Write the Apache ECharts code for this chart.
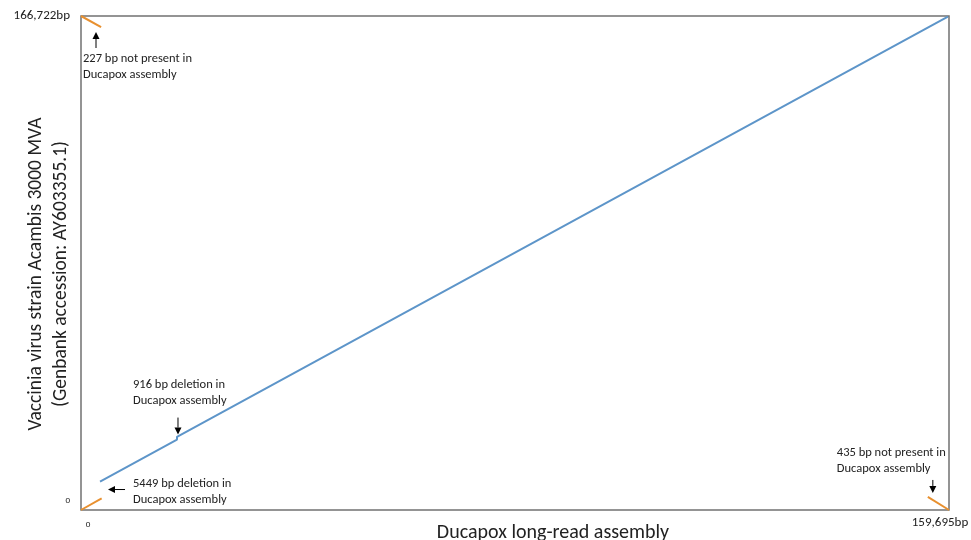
<!DOCTYPE html>
<html>
<head>
<meta charset="utf-8">
<script src="https://cdn.jsdelivr.net/npm/echarts@6/dist/echarts.min.js"></script>
<style>
  html, body { margin: 0; padding: 0; background: #ffffff; }
  #chart { width: 971px; height: 540px; }
</style>
</head>
<body>
<div id="chart"></div>
<script>
// Genome lengths (bp)
const queryLength = 159695;      // Ducapox long-read assembly
const referenceLength = 166722;  // Vaccinia virus strain Acambis 3000 MVA

// Forward alignment (query bp, reference bp), with the 916 bp step
const forwardMatch = [[3500, 9611], [17660, 23771], [17660, 24687], [159500, 166527]];

// Inverted terminal repeat matches
const repeatTopLeft = [[0, 166722], [3700, 163000]];
const repeatBottomLeft = [[0, 0], [3800, 3900]];
const repeatBottomRight = [[155800, 4400], [159695, 0]];

// Axis tick labels
const xTickLabels = ['0', '159,695bp'];
const yTickLabels = ['0', '166,722bp'];

const FONT = "'Carlito', 'Liberation Sans', 'Open Sans', sans-serif";
const BLUE = '#5d95c9';
const ORANGE = '#e8902f';

const chart = echarts.init(document.getElementById('chart'));

function seg(data, color) {
  return {
    type: 'line', data: data, symbol: 'none', silent: true,
    lineStyle: { color: color, width: 2 }, animation: false
  };
}

chart.setOption({
  animation: false,
  grid: {
    left: 81, right: 22, top: 16, bottom: 30,
    outerBoundsMode: 'none', containLabel: false,
    show: true, borderColor: '#727272', borderWidth: 1.5, backgroundColor: 'transparent'
  },
  xAxis: {
    type: 'value', min: 0, max: queryLength, interval: queryLength,
    axisLine: { show: false }, axisTick: { show: false }, splitLine: { show: false },
    axisLabel: {
      margin: 6,
      formatter: v => v === 0 ? '{s|' + xTickLabels[0] + '}' : '{b|' + xTickLabels[1] + '}',
      rich: {
        s: { fontFamily: FONT, fontSize: 9, color: '#222', padding: [4, 0, 0, 14] },
        b: { fontFamily: FONT, fontSize: 13, color: '#222', padding: [0, 18, 0, 0] }
      }
    },
    name: 'Ducapox long-read assembly', nameLocation: 'middle', nameGap: 13, nameMoveOverlap: false,
    nameTextStyle: { fontFamily: FONT, fontSize: 20, color: '#222', padding: [0, 0, 0, 76] }
  },
  yAxis: {
    type: 'value', min: 0, max: referenceLength, interval: referenceLength,
    axisLine: { show: false }, axisTick: { show: false }, splitLine: { show: false },
    axisLabel: {
      margin: 11,
      formatter: v => v === 0 ? '{s|' + yTickLabels[0] + '}' : '{b|' + yTickLabels[1] + '}',
      rich: {
        s: { fontFamily: FONT, fontSize: 9, color: '#222', padding: [0, 0, 18, 0] },
        b: { fontFamily: FONT, fontSize: 13, color: '#222' }
      }
    },
    name: 'Vaccinia virus strain Acambis 3000 MVA\n(Genbank accession: AY603355.1)',
    nameLocation: 'middle', nameGap: 7, nameRotate: 90, nameMoveOverlap: false,
    nameTextStyle: { fontFamily: FONT, fontSize: 19.5, color: '#222', lineHeight: 25, padding: [0, 22, 0, 0] }
  },
  series: [
    seg(forwardMatch, BLUE),
    seg(repeatTopLeft, ORANGE),
    seg(repeatBottomLeft, ORANGE),
    seg(repeatBottomRight, ORANGE)
  ]
});

// Annotation arrows and notes, anchored to data points with pixel offsets
function px(pt) { return chart.convertToPixel({ gridIndex: 0 }, pt); }

function arrow(x1, y1, x2, y2) {
  // shaft from (x1,y1) to tip (x2,y2)
  const ang = Math.atan2(y2 - y1, x2 - x1);
  const len = 7, half = 3.5;
  const bx = x2 - Math.cos(ang) * len, by = y2 - Math.sin(ang) * len;
  const nx = -Math.sin(ang) * half, ny = Math.cos(ang) * half;
  return [
    { type: 'line', shape: { x1: x1, y1: y1, x2: bx, y2: by }, style: { stroke: '#000', lineWidth: 1 }, silent: true },
    { type: 'polygon', shape: { points: [[x2, y2], [bx + nx, by + ny], [bx - nx, by - ny]] }, style: { fill: '#000' }, silent: true }
  ];
}

function note(x, y, text) {
  return {
    type: 'text', x: x, y: y, silent: true,
    style: { text: text, fontFamily: FONT, fontSize: 12.5, lineHeight: 16, fill: '#222', align: 'left', verticalAlign: 'top' }
  };
}

const corner = px([0, referenceLength]);
const delPt = px(forwardMatch[1]);
const startPt = px(forwardMatch[0]);
const brPt = px(repeatBottomRight[0]);

const elements = [].concat(
  arrow(corner[0] + 15, corner[1] + 32, corner[0] + 15, corner[1] + 16),
  [note(corner[0] + 2, corner[1] + 35, '227 bp not present in\nDucapox assembly')],
  arrow(delPt[0] + 1, delPt[1] - 22, delPt[0] + 1, delPt[1] - 5),
  [note(delPt[0] - 44, delPt[1] - 63, '916 bp deletion in\nDucapox assembly')],
  arrow(startPt[0] + 25, startPt[1] + 8, startPt[0] + 8, startPt[1] + 8),
  [note(startPt[0] + 33, startPt[1] - 6, '5449 bp deletion in\nDucapox assembly')],
  arrow(brPt[0] + 5, brPt[1] - 17, brPt[0] + 5, brPt[1] - 4),
  [note(brPt[0] - 91, brPt[1] - 52, '435 bp not present in\nDucapox assembly')]
);

chart.setOption({ graphic: { elements: elements } });
</script>
</body>
</html>
